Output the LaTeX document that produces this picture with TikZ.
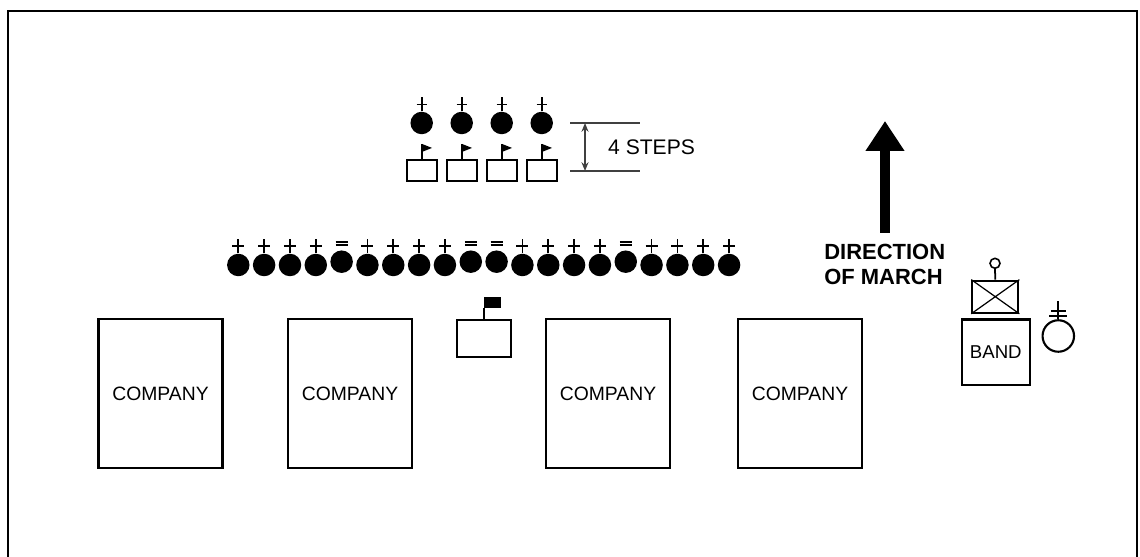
\documentclass[tikz,border=0pt]{standalone}
\usepackage{fontspec}
\setmainfont{Liberation Sans}
\usetikzlibrary{arrows.meta, positioning}

\begin{document}
\begin{tikzpicture}[x=0.02cm, y=-0.02cm,
        soldier/.style={circle, fill=black, inner sep=0pt, minimum size=0.45cm},
        rank/.style={line width=1pt},
        flagbox/.style={draw, line width=1.2pt, inner sep=0pt, minimum width=0.6cm, minimum height=0.42cm},
        unit/.style={draw, line width=1.2pt, inner sep=0pt, minimum width=2.48cm, minimum height=2.98cm, font=\fontsize{11}{13}\selectfont},
        dimline/.style={line width=0.8pt, draw=black!75}]
  \useasboundingbox (0,0) rectangle (1140,557);
  % frame
  \draw[line width=1.6pt] (8,600) -- (8,11) -- (1137,11) -- (1137,600);

  % guides with their flags, 4 steps ahead
  \foreach \i in {1,...,4} {
    \node[soldier] (g\i) at ({421.7+(\i-1)*40},123) {};
    \draw[rank] (g\i.north) -- ++(0,-14) ++(-5,7) -- ++(10,0);
    \node[flagbox] (fb\i) at ({422+(\i-1)*40},170.5) {};
    \draw[rank] (fb\i.north) -- ++(0,-15) coordinate (fp\i);
    \fill (fp\i) -- ++(10,4) -- ++(-10,4) -- cycle;
  }
  % distance between the two lines
  \coordinate (d1) at (570,123);
  \coordinate (d2) at (570,171);
  \draw[dimline] (d1) -- ++(70,0);
  \draw[dimline] (d2) -- ++(70,0);
  \draw[dimline, {Stealth[length=5pt,width=4pt]}-{Stealth[length=5pt,width=4pt]}] (585,123) -- (585,171);
  \node[anchor=west, font=\fontsize{12}{14}\selectfont] (steps) at (602,147) {4 STEPS};

  % line of soldiers in front of the companies
  \foreach \i in {1,2,3,4,6,7,8,9,12,13,14,15,17,18,19,20} {
    \node[soldier] (m\i) at ({238.3+(\i-1)*25.83},265) {};
    \draw[rank] (m\i.north) -- ++(0,-14) ++(-6,6.5) -- ++(12,0);
  }
  \foreach \i in {5,10,11,16} {
    \node[soldier] (m\i) at ({238.3+(\i-1)*25.83},261.7) {};
    \draw[rank] (m\i.north) ++(-6,-8.4) -- ++(12,0) ++(-12,3.4) -- ++(12,0);
  }

  % commander with colours
  \node[flagbox, minimum width=1.08cm, minimum height=0.74cm] (cmd) at (483.7,338.3) {};
  \draw[rank] (cmd.north) -- ++(0,-11) coordinate (cf);
  \fill (cf) rectangle ++(17,-11);

  % companies
  \node[unit] (c1) at (160.5,393.8) {COMPANY};
  \node[unit] (c2) at (350,393.8) {COMPANY};
  \node[unit] (c3) at (608,393.8) {COMPANY};
  \node[unit] (c4) at (800,393.8) {COMPANY};

  % direction of march
  \coordinate (dirbase) at (885,233);
  \coordinate (dirtip) at (885,121);
  \draw[line width=0.2cm, -{Triangle[length=0.6cm, width=0.74cm]}] (dirbase) -- (dirtip);
  \node[anchor=west, align=left, inner sep=0pt, font=\bfseries\fontsize{12.5}{14.2}\selectfont] (dir) at (824,264.5) {DIRECTION\\OF MARCH};

  % band
  \node[draw, line width=1.2pt, inner sep=0pt, minimum width=1.37cm, minimum height=1.31cm, font=\fontsize{10.6}{12}\selectfont] (band) at (995.8,352.2) {BAND};
  \node[flagbox, minimum width=0.92cm, minimum height=0.64cm] (bl) at (995.3,296.7) {};
  \draw[line width=0.7pt] (bl.north west) -- (bl.south east) (bl.north east) -- (bl.south west);
  \node[draw, circle, line width=0.9pt, inner sep=0pt, minimum size=0.2cm] (baton) at (995,263.3) {};
  \draw[rank] (bl.north) -- (baton.south);
  \node[draw, circle, line width=1.2pt, inner sep=0pt, minimum size=0.63cm] (dm) at (1058.3,336) {};
  \draw[rank] (dm.north) -- ++(0,-18) ++(-7.5,10) -- ++(15,0) ++(-16.5,5) -- ++(18,0);
\end{tikzpicture}
\end{document}
